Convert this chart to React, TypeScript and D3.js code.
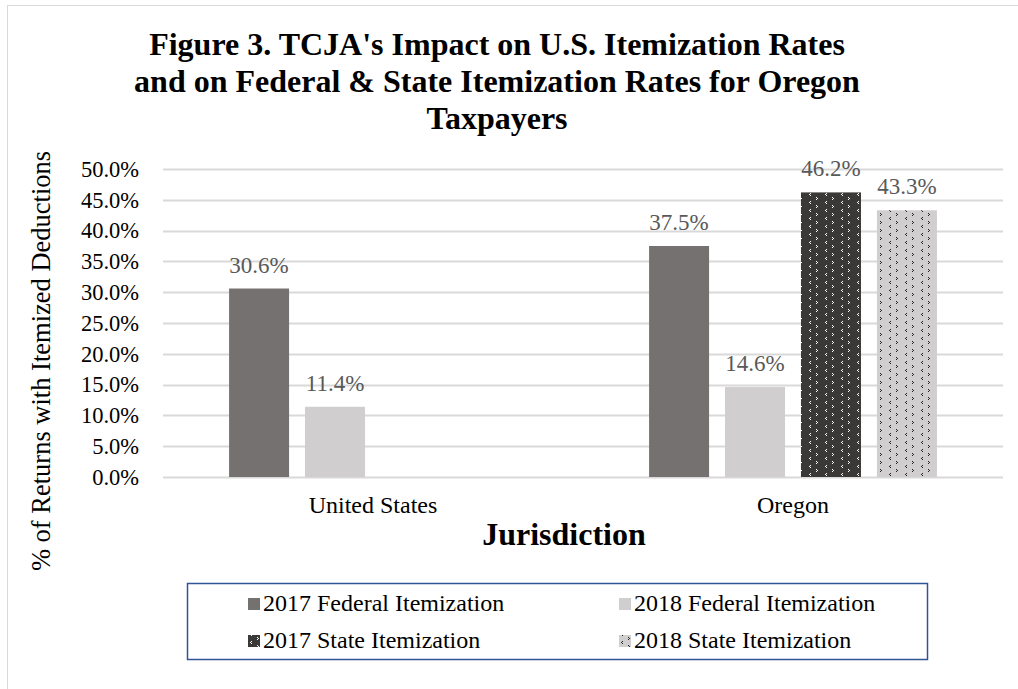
import React, { useRef, useEffect } from 'react';
import * as d3 from 'd3';

const categories = ['United States', 'Oregon'];
const seriesNames = ['2017 Federal Itemization', '2018 Federal Itemization', '2017 State Itemization', '2018 State Itemization'];
const usValues = [30.6, 11.4, null, null];
const oregonValues = [37.5, 14.6, 46.2, 43.3];
const yTicks = [0, 5, 10, 15, 20, 25, 30, 35, 40, 45, 50];
const titleLines = ["Figure 3. TCJA's Impact on U.S. Itemization Rates", 'and on Federal & State Itemization Rates for Oregon', 'Taxpayers'];

const App = () => {
  const chartRef = useRef<SVGSVGElement>(null);

  useEffect(() => {
    const width = 1018;
    const height = 689;
    const margin = { top: 169, right: 15, bottom: 212, left: 163 };
    const font = '"Liberation Serif", "Times New Roman", serif';

    const svg = d3.select(chartRef.current);
    svg.selectAll('*').remove();
    svg.attr('width', width).attr('height', height);

    //patterns for the state bars
    const defs = svg.append('defs');
    const makePattern = (id: string, bg: string, fg: string) => {
      const p = defs.append('pattern')
        .attr('id', id)
        .attr('patternUnits', 'userSpaceOnUse')
        .attr('width', 16)
        .attr('height', 16);
      p.append('rect').attr('width', 16).attr('height', 16).attr('fill', bg);
      // "<" marks and ">" marks
      const lt = [[1, 0], [0, 1], [1, 2]];
      const gt = [[0, 0], [1, 1], [0, 2]];
      const put = (pts: number[][], ox: number, oy: number) =>
        pts.forEach(([a, b]) => p.append('rect').attr('x', ox + a).attr('y', oy + b).attr('width', 1).attr('height', 1).attr('fill', fg));
      put(lt, 2, 1);
      put(gt, 9, 5);
      put(lt, 2, 9);
      put(gt, 9, 13);
    };
    makePattern('pat2017', '#3b3838', '#ffffff');
    makePattern('pat2018', '#d0cece', '#262626');

    const fills = ['#767171', '#d0cece', 'url(#pat2017)', 'url(#pat2018)'];

    //outer border
    svg.append('rect')
      .attr('x', 7.5).attr('y', 5.5)
      .attr('width', width + 20).attr('height', height + 20)
      .attr('fill', '#fff')
      .attr('stroke', '#d9d9d9');

    //title
    svg.append('text')
      .attr('text-anchor', 'middle')
      .style('font-family', font)
      .style('font-size', '32px')
      .style('font-weight', 'bold')
      .selectAll('tspan')
      .data(titleLines)
      .join('tspan')
      .attr('x', 497)
      .attr('y', (d, i) => 55 + i * 37)
      .text(d => d);

    const x0 = d3.scaleBand()
      .domain(categories)
      .range([margin.left, width - margin.right]);

    const x1 = d3.scaleBand()
      .domain(seriesNames)
      .range([0, x0.bandwidth()])
      .paddingInner(0.21)
      .paddingOuter(0.87);

    const y = d3.scaleLinear()
      .domain([0, 50])
      .range([height - margin.bottom, margin.top]);

    //gridlines
    svg.append('g')
      .selectAll('line')
      .data(yTicks)
      .join('line')
      .attr('x1', margin.left)
      .attr('x2', width - margin.right)
      .attr('y1', d => Math.round(y(d)) + 0.5)
      .attr('y2', d => Math.round(y(d)) + 0.5)
      .attr('stroke', '#d9d9d9')
      .attr('stroke-width', 2);

    //y tick labels
    svg.append('g')
      .selectAll('text')
      .data(yTicks)
      .join('text')
      .attr('x', 139)
      .attr('y', d => y(d))
      .attr('dy', '0.35em')
      .attr('text-anchor', 'end')
      .style('font-family', font)
      .style('font-size', '22.5px')
      .style('fill', '#000')
      .text(d => d3.format('.1f')(d) + '%');

    //category labels
    svg.append('g')
      .selectAll('text')
      .data(categories)
      .join('text')
      .attr('x', d => x0(d)! + x0.bandwidth() / 2)
      .attr('y', 513)
      .attr('text-anchor', 'middle')
      .style('font-family', font)
      .style('font-size', '24px')
      .text(d => d);

    //bars
    const rows = [usValues, oregonValues];
    const groups = svg.append('g')
      .selectAll('g')
      .data(categories)
      .join('g')
      .attr('transform', d => `translate(${x0(d)},0)`);

    groups.each(function (cat, ci) {
      const g = d3.select(this);
      const vals = seriesNames
        .map((s, si) => ({ s, si, v: rows[ci][si] }))
        .filter(d => d.v != null) as { s: string; si: number; v: number }[];

      g.selectAll('rect')
        .data(vals)
        .join('rect')
        .attr('x', d => x1(d.s)!)
        .attr('y', d => y(d.v))
        .attr('width', x1.bandwidth())
        .attr('height', d => y(0) - y(d.v))
        .attr('fill', d => fills[d.si]);

      g.selectAll('text')
        .data(vals)
        .join('text')
        .attr('x', d => x1(d.s)! + x1.bandwidth() / 2)
        .attr('y', d => y(d.v) - 16)
        .attr('text-anchor', 'middle')
        .style('font-family', font)
        .style('font-size', '23px')
        .style('fill', '#595959')
        .text(d => d.v.toFixed(1) + '%');
    });

    //axis titles
    svg.append('text')
      .attr('x', 564)
      .attr('y', 545)
      .attr('text-anchor', 'middle')
      .style('font-family', font)
      .style('font-size', '32px')
      .style('font-weight', 'bold')
      .text('Jurisdiction');

    svg.append('text')
      .attr('transform', `translate(50,361) rotate(-90)`)
      .attr('text-anchor', 'middle')
      .style('font-family', font)
      .style('font-size', '26.5px')
      .text('% of Returns with Itemized Deductions');

    //legend
    svg.append('rect')
      .attr('x', 187.5).attr('y', 583.5)
      .attr('width', 740).attr('height', 76)
      .attr('fill', 'none')
      .attr('stroke', '#2f5597')
      .attr('stroke-width', 1.5);

    const legendPos = [[248, 611], [619, 611], [248, 648], [619, 648]];
    const legend = svg.append('g')
      .selectAll('g')
      .data(seriesNames)
      .join('g')
      .attr('transform', (d, i) => `translate(${legendPos[i][0]},${legendPos[i][1]})`);

    legend.append('rect')
      .attr('x', 0).attr('y', -13)
      .attr('width', 12).attr('height', 12)
      .attr('fill', (d, i) => fills[i]);

    legend.append('text')
      .attr('x', 15)
      .attr('y', 0)
      .style('font-family', font)
      .style('font-size', '24px')
      .text(d => d);
  }, []);

  return <svg ref={chartRef} style={{ position: 'absolute', left: 0, top: 0, display: 'block' }}></svg>;
};

export default App;
